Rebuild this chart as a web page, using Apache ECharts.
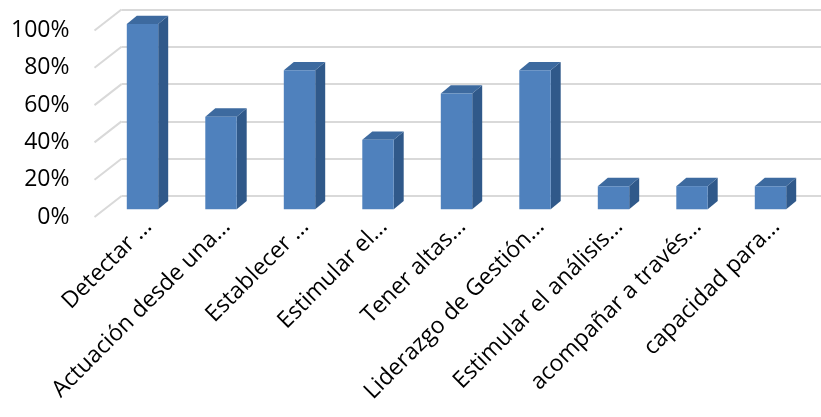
<!DOCTYPE html>
<html>
<head>
<meta charset="utf-8">
<script src="https://cdn.jsdelivr.net/npm/echarts@6/dist/echarts.min.js"></script>
<style>
  html, body { margin: 0; padding: 0; background: #fff; }
  #chart { width: 821px; height: 417px; }
</style>
</head>
<body>
<div id="chart"></div>
<script>
// Competencias valoradas (proporción de respuestas)
const categories = [
  'Detectar ...',
  'Actuación desde una...',
  'Establecer ...',
  'Estimular el...',
  'Tener altas...',
  'Liderazgo de Gestión...',
  'Estimular el análisis...',
  'acompañar a través...',
  'capacidad para...'
];
const values = [1.0, 0.5, 0.75, 0.375, 0.625, 0.75, 0.125, 0.125, 0.125];
const yTicks = [0, 0.2, 0.4, 0.6, 0.8, 1.0];

const FONT = '"Open Sans", sans-serif';
const FRONT = '#4F81BD';
const SIDE = '#30598A';
const TOP = '#3D6A9F';
const GRID = '#D9D9D9';

// depth of each column (side/top faces) and of the side wall
const BAR_DX = 10, BAR_DY = -8.3;
const WALL_DX = -27, WALL_DY = 21;

const chart = echarts.init(document.getElementById('chart'), null, { renderer: 'canvas' });

chart.setOption({
  animation: false,
  backgroundColor: '#ffffff',
  grid: [
    // front edge: value labels and category labels
    { left: 109, top: 30.5, width: 706.5, height: 186.5 },
    // plane of the column fronts
    { left: 103.25, top: 24, width: 706.5, height: 185.3 },
    // back wall with gridlines
    { left: 121.5, top: 9.5, right: 0, height: 186.5 }
  ],
  xAxis: [
    {
      gridIndex: 0, type: 'category', data: categories,
      axisLine: { show: false }, axisTick: { show: false },
      axisLabel: {
        interval: 0, rotate: 45, margin: 6,
        fontFamily: FONT, fontSize: 23, color: '#000'
      }
    },
    { gridIndex: 1, type: 'category', data: categories, show: false },
    { gridIndex: 2, type: 'value', min: 0, max: 1, show: false }
  ],
  yAxis: [
    {
      gridIndex: 0, type: 'value', min: 0, max: 1, interval: 0.2,
      offset: 14.5,
      axisLine: { show: false }, axisTick: { show: false }, splitLine: { show: false },
      axisLabel: {
        margin: 25, fontFamily: FONT, fontSize: 23, color: '#000',
        formatter: v => Math.round(v * 100) + '%'
      }
    },
    { gridIndex: 1, type: 'value', min: 0, max: 1, show: false },
    {
      gridIndex: 2, type: 'value', min: 0, max: 1, interval: 0.2,
      axisLine: { show: false }, axisTick: { show: false }, axisLabel: { show: false },
      splitLine: { show: true, lineStyle: { color: GRID, width: 2 } }
    }
  ],
  series: [
    {
      // gridlines running along the left side wall
      type: 'custom', xAxisIndex: 2, yAxisIndex: 2, silent: true, z: 1,
      data: yTicks.map(v => [0, v]),
      renderItem: function (params, api) {
        const p = api.coord([0, api.value(1)]);
        return {
          type: 'line',
          shape: { x1: p[0], y1: p[1], x2: p[0] + WALL_DX, y2: p[1] + WALL_DY },
          style: { stroke: GRID, lineWidth: 2 }
        };
      }
    },
    {
      // columns with side and top faces
      type: 'custom', xAxisIndex: 1, yAxisIndex: 1, z: 5,
      data: values.map((v, i) => [i, v]),
      renderItem: function (params, api) {
        const i = api.value(0), v = api.value(1);
        const top = api.coord([i, v]);
        const base = api.coord([i, 0]);
        const w = api.size([1, 0])[0] * 0.4;
        const x0 = top[0] - w / 2, x1 = top[0] + w / 2;
        const yt = top[1], yb = base[1];
        return {
          type: 'group',
          children: [
            {
              type: 'polygon',
              shape: { points: [[x1, yt], [x1 + BAR_DX, yt + BAR_DY], [x1 + BAR_DX, yb + BAR_DY], [x1, yb]] },
              style: { fill: SIDE }
            },
            {
              type: 'polygon',
              shape: { points: [[x0, yt], [x0 + BAR_DX, yt + BAR_DY], [x1 + BAR_DX, yt + BAR_DY], [x1, yt]] },
              style: { fill: TOP }
            },
            {
              type: 'rect',
              shape: { x: x0, y: yt, width: w, height: yb - yt },
              style: { fill: FRONT }
            }
          ]
        };
      }
    }
  ]
});
</script>
</body>
</html>
